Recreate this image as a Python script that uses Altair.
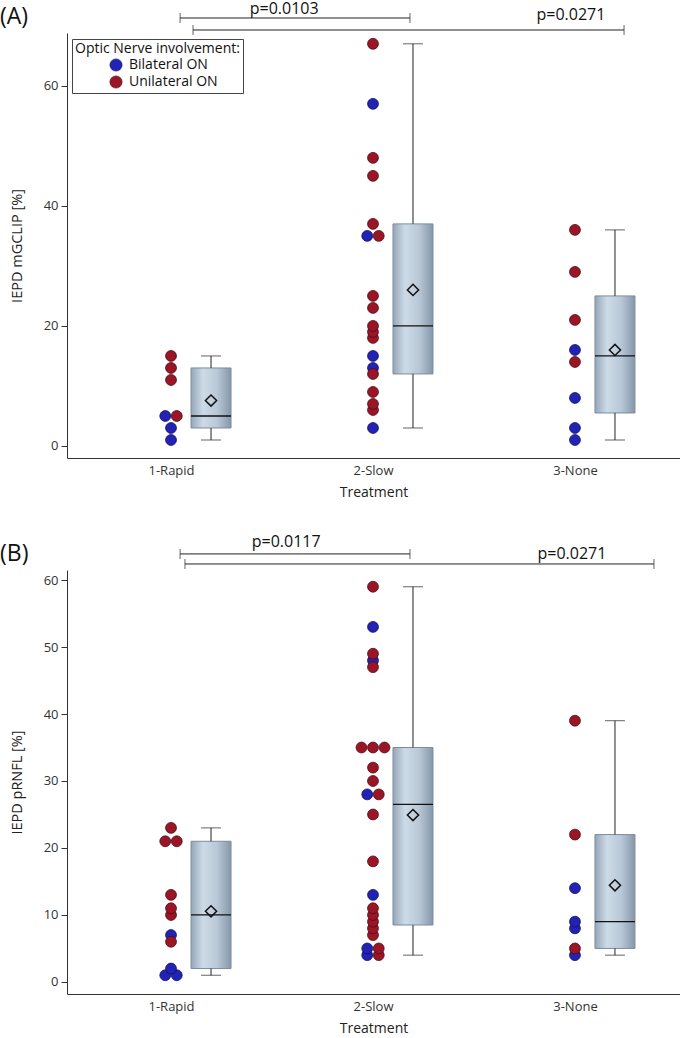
import altair as alt
import numpy as np
import pandas as pd

groups = ["1-Rapid", "2-Slow", "3-None"]
involvement = ["Bilateral ON", "Unilateral ON"]

# Panel A: IEPD mGCLIP [%]
gclip_bilateral = {
    "1-Rapid": [5, 3, 1],
    "2-Slow": [57, 35, 15, 13, 3],
    "3-None": [16, 8, 3, 1],
}
gclip_unilateral = {
    "1-Rapid": [15, 13, 11, 5],
    "2-Slow": [67, 48, 45, 37, 35, 25, 23, 20, 19, 18, 12, 9, 7, 6],
    "3-None": [36, 29, 21, 14],
}

# Panel B: IEPD pRNFL [%]
prnfl_bilateral = {
    "1-Rapid": [7, 2, 1, 1],
    "2-Slow": [53, 48, 28, 13, 5, 4],
    "3-None": [14, 9, 8, 4],
}
prnfl_unilateral = {
    "1-Rapid": [23, 21, 21, 13, 11, 10, 6],
    "2-Slow": [59, 49, 47, 35, 35, 35, 32, 30, 28, 25, 18, 11, 10, 9, 8, 7, 5, 4],
    "3-None": [39, 22, 5],
}

# pairwise comparisons: (from group, to group, p-value text)
gclip_pvalues = [("1-Rapid", "2-Slow", "p=0.0103"), ("1-Rapid", "3-None", "p=0.0271")]
prnfl_pvalues = [("1-Rapid", "2-Slow", "p=0.0117"), ("1-Rapid", "3-None", "p=0.0271")]

BLUE, RED = "#2222b4", "#9a1626"
FONT = "Open Sans"

W = 613
X_DOMAIN = [0.485, 3.52]
PX = W / (X_DOMAIN[1] - X_DOMAIN[0])  # pixels per group unit
DOT = 11.5          # dot spacing for tied values (px)
BOX_SHIFT = 40      # box centre to the right of the dots (px)
BOX_HALF = 20       # half box width (px)


def sas_pct(values, p):
    """Percentile, SAS definition 5."""
    x = np.sort(np.asarray(values, dtype=float))
    n = len(x)
    np_ = n * p
    j = int(np.floor(np_))
    g = np_ - j
    if g == 0:
        return (x[j - 1] + x[j]) / 2
    return x[j]


def build_points(bil, uni):
    rows = []
    for gi, g in enumerate(groups, start=1):
        entries = [(v, involvement[0]) for v in bil[g]] + [(v, involvement[1]) for v in uni[g]]
        # spread tied values side by side
        for v in sorted(set(e[0] for e in entries)):
            tied = [e for e in entries if e[0] == v]
            m = len(tied)
            for k, (val, inv) in enumerate(tied):
                off = (k - (m - 1) / 2) * DOT
                rows.append(dict(group=g, value=val, inv=inv, x=gi + off / PX,
                                 order=0 if inv == involvement[0] else 1))
    df = pd.DataFrame(rows).sort_values("order", kind="stable").reset_index(drop=True)
    return df


def build_boxes(bil, uni):
    rows = []
    for gi, g in enumerate(groups, start=1):
        vals = bil[g] + uni[g]
        xc = gi + BOX_SHIFT / PX
        rows.append(dict(group=g, xc=xc, xl=xc - BOX_HALF / PX, xr=xc + BOX_HALF / PX,
                         lo=min(vals), hi=max(vals), q1=sas_pct(vals, 0.25),
                         med=sas_pct(vals, 0.5), q3=sas_pct(vals, 0.75),
                         mean=float(np.mean(vals))))
    return pd.DataFrame(rows)


def build_brackets(pvals, y_lines, x_starts, x_ends, label_pos):
    rows = []
    for (g1, g2, txt), yl, xs, xe, (lx, ly) in zip(pvals, y_lines, x_starts, x_ends, label_pos):
        rows.append(dict(x1=xs, x2=xe, y=yl, label=txt, lx=lx, ly=ly))
    return pd.DataFrame(rows)


box_fill = alt.Gradient(
    gradient="linear", x1=0, x2=1, y1=0, y2=0,
    stops=[alt.GradientStop(offset=0, color="#95a6b7"),
           alt.GradientStop(offset=0.3, color="#cddbe8"),
           alt.GradientStop(offset=0.65, color="#b9c8d7"),
           alt.GradientStop(offset=1, color="#8597a9")],
)


def panel(bil, uni, brackets, y_domain, y_ticks, y_title, tag, height, legend_y):
    pts = build_points(bil, uni)
    box = build_boxes(bil, uni)

    xs = alt.Scale(domain=X_DOMAIN, nice=False, zero=False)
    ys = alt.Scale(domain=y_domain, nice=False, zero=False)
    x_axis = alt.Axis(values=[1, 2, 3], labelExpr="['', '1-Rapid', '2-Slow', '3-None'][datum.value]",
                      ticks=False, tickSize=0, grid=False, labelPadding=6, title="Treatment",
                      titlePadding=8, labelFontSize=13, titleFontSize=14, labelFlush=False)
    y_axis = alt.Axis(values=y_ticks, grid=False, tickSize=6, labelPadding=3, title=y_title,
                      titlePadding=19, labelFontSize=13, titleFontSize=14.5)

    base_box = alt.Chart(box)
    rect = base_box.mark_rect(fill=box_fill, stroke="#7d8d9d", strokeWidth=1).encode(
        x=alt.X("xl:Q", scale=xs, axis=x_axis), x2="xr:Q",
        y=alt.Y("q1:Q", scale=ys, axis=y_axis), y2="q3:Q")
    wl = base_box.mark_rule(color="#222", strokeWidth=1).encode(x="xc:Q", y="lo:Q", y2="q1:Q")
    wh = base_box.mark_rule(color="#222", strokeWidth=1).encode(x="xc:Q", y="q3:Q", y2="hi:Q")
    cap_lo = base_box.mark_tick(orient="horizontal", size=20, thickness=1, color="#222").encode(x="xc:Q", y="lo:Q")
    cap_hi = base_box.mark_tick(orient="horizontal", size=20, thickness=1, color="#222").encode(x="xc:Q", y="hi:Q")
    med = base_box.mark_rule(color="#111", strokeWidth=1.3).encode(x="xl:Q", x2="xr:Q", y="med:Q")
    mean = base_box.mark_point(shape="diamond", filled=False, size=125, color="#111",
                               strokeWidth=1.5, opacity=1).encode(x="xc:Q", y="mean:Q")

    dots = alt.Chart(pts).mark_circle(size=118, opacity=1, strokeWidth=0.8).encode(
        x="x:Q", y="value:Q",
        color=alt.Color("inv:N", scale=alt.Scale(domain=involvement, range=[BLUE, RED]),
                        legend=alt.Legend(title="Optic Nerve involvement:", orient="none",
                                          legendX=5, legendY=legend_y, strokeColor="#444",
                                          fillColor="white", padding=3, titleFontSize=14,
                                          titleFontWeight="normal", labelFontSize=14,
                                          symbolSize=150, symbolOffset=34, rowPadding=1,
                                          titlePadding=2, symbolStrokeColor="#222",
                                          symbolStrokeWidth=0.6, labelOffset=6,
                                          titleColor="#111", labelColor="#111")),
        stroke=alt.Stroke("inv:N", scale=alt.Scale(domain=involvement, range=["#12125e", "#4e0a12"]),
                          legend=None),
        order="order:Q",
    )

    br = alt.Chart(brackets)
    br_line = br.mark_rule(color="#222", strokeWidth=1).encode(x="x1:Q", x2="x2:Q", y="y:Q")
    br_l = br.mark_tick(orient="vertical", size=10, thickness=1, color="#222").encode(x="x1:Q", y="y:Q")
    br_r = br.mark_tick(orient="vertical", size=10, thickness=1, color="#222").encode(x="x2:Q", y="y:Q")
    br_txt = br.mark_text(fontSize=16, color="#111", baseline="middle").encode(
        x="lx:Q", y="ly:Q", text="label:N")

    # panel tag in the top-left corner
    tag_txt = alt.Chart(pd.DataFrame({"tag": [tag]})).mark_text(
        fontSize=23, align="left", baseline="middle", color="#111"
    ).encode(x=alt.value(-67), y=alt.value(-16), text="tag:N")

    return alt.layer(rect, wl, wh, cap_lo, cap_hi, med, mean, dots,
                     br_line, br_l, br_r, br_txt, tag_txt).properties(width=W, height=height)


a_brackets = build_brackets(gclip_pvalues, [71.3, 69.3], [1.045, 1.109], [2.183, 3.243],
                            [(1.56, 72.8), (2.98, 71.8)])
b_brackets = build_brackets(prnfl_pvalues, [63.9, 62.4], [1.045, 1.069], [2.183, 3.391],
                            [(1.57, 65.7), (2.985, 63.9)])

chart_a = panel(gclip_bilateral, gclip_unilateral, a_brackets, [-2.0, 68.8], [0, 20, 40, 60],
                "IEPD mGCLIP [%]", "(A)", 425, 6)
chart_b = panel(prnfl_bilateral, prnfl_unilateral, b_brackets, [-1.8, 61.5],
                [0, 10, 20, 30, 40, 50, 60], "IEPD pRNFL [%]", "(B)", 424, 4)

chart = alt.vconcat(chart_a, chart_b, spacing=112).properties(
    bounds="flush", padding={"left": 0, "top": 0, "right": 0, "bottom": 0}
).configure(font=FONT).configure_view(stroke=None).configure_axis(
    domainColor="#333", tickColor="#333", labelColor="#333", titleColor="#222",
    titleFontWeight="normal", labelFont=FONT, titleFont=FONT
)

chart.save("out.html", embed_options={"renderer": "svg", "actions": False})
